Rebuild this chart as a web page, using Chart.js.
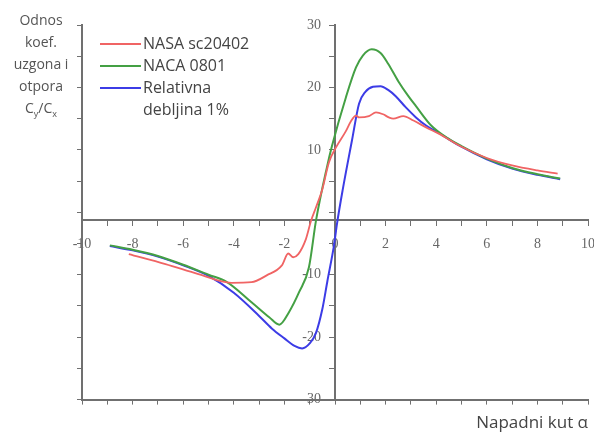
<!DOCTYPE html>
<html>
<head>
<meta charset="utf-8">
<script src="https://cdn.jsdelivr.net/npm/chart.js@4.4.1/dist/chart.umd.min.js"></script>
<style>
  html, body { margin: 0; padding: 0; background: #fff; }
  #wrap { position: relative; width: 594px; height: 433px; }
  #ytitle {
    position: absolute; left: 0; top: 9px; width: 82px;
    text-align: center; font: 14px "Open Sans", sans-serif; color: #555; line-height: 22px;
  }
  #ytitle sub { font-size: 9px; }
</style>
</head>
<body>
<div id="wrap">
  <canvas id="chart" width="594" height="433"></canvas>
  <div id="ytitle">Odnos<br>koef.<br>uzgona i<br>otpora<br>C<sub>y</sub>/C<sub>x</sub></div>
</div>
<script>
// series labels
const seriesLabels = ["NASA sc20402", "NACA 0801", "Relativna\ndebljina 1%"];

// NASA sc20402
const alphaNasa = [-8.15, -6.7, -5.4, -4.1, -3.3, -2.7, -2.1, -1.85, -1.65, -1.45, -1.15, -0.95, -0.75, -0.5, -0.24, 0.04, 0.43, 0.63, 0.83, 0.95, 1.34, 1.62, 1.9, 2.13, 2.3, 2.7, 3.1, 3.6, 4.1, 5.0, 6.0, 7.0, 8.0, 8.8];
const ratioNasa = [-6.7, -8.3, -9.9, -11.3, -11.2, -10.1, -8.5, -6.6, -7.2, -6.7, -4.3, -1.4, 0.8, 3.7, 8.0, 10.4, 13.0, 14.6, 15.5, 15.2, 15.4, 16.0, 15.7, 15.2, 15.0, 15.4, 14.7, 13.6, 12.6, 10.5, 8.7, 7.5, 6.7, 6.2];

// NACA 0801
const alphaNaca = [-8.9, -8.0, -7.0, -6.0, -5.0, -4.3, -3.3, -2.6, -2.2, -1.82, -1.42, -1.03, -0.75, -0.32, -0.12, 0.43, 0.83, 1.1, 1.45, 1.8, 2.1, 2.5, 2.9, 3.2, 3.8, 4.4, 5.0, 6.0, 7.0, 8.0, 8.9];
const ratioNaca = [-5.3, -6.0, -7.0, -8.4, -10.0, -11.1, -14.4, -16.8, -18.0, -16.0, -12.8, -8.8, -1.3, 7.2, 10.6, 18.4, 23.2, 25.1, 26.1, 25.5, 23.8, 21.0, 18.6, 17.0, 13.9, 12.0, 10.6, 8.6, 7.1, 6.1, 5.4];

// Relativna debljina 1%
const alphaRel = [-8.9, -8.0, -7.0, -6.0, -5.0, -4.0, -3.0, -2.5, -2.0, -1.6, -1.3, -1.0, -0.75, -0.5, -0.3, -0.04, 0.08, 0.3, 0.67, 0.95, 1.2, 1.5, 1.8, 2.1, 2.4, 2.8, 3.2, 3.6, 4.1, 4.9, 6.0, 7.0, 8.0, 8.9];
const ratioRel = [-5.4, -6.1, -7.1, -8.5, -10.2, -12.9, -16.6, -18.6, -20.2, -21.4, -21.8, -21.0, -19.3, -15.5, -11.0, -5.3, -1.8, 3.5, 11.5, 17.4, 19.3, 20.1, 20.2, 19.6, 18.6, 16.8, 15.2, 13.9, 12.7, 10.7, 8.5, 7.0, 6.0, 5.3];

const xAxisTitle = "Napadni kut α";

const toPoints = (xs, ys) => xs.map((x, i) => ({ x: x, y: ys[i] }));

const axisColor = "#707070";
const tickFont = { family: "Liberation Serif", size: 14 };

// centre axes: their labels must not push the plot area in
const noPadding = (s) => {
    s.paddingLeft = 0;
    s.paddingRight = 0;
    s.paddingTop = 0;
    s.paddingBottom = 0;
};

// legend drawn by hand: short line + (multi-line) label
const lineLegend = {
    id: "lineLegend",
    afterDraw(chart) {
        const ctx = chart.ctx;
        ctx.save();
        ctx.font = '16px "Open Sans"';
        ctx.textBaseline = "middle";
        let y = 44;
        chart.data.datasets.forEach((ds) => {
            ctx.strokeStyle = ds.borderColor;
            ctx.lineWidth = 2;
            ctx.beginPath();
            ctx.moveTo(100, y);
            ctx.lineTo(141, y);
            ctx.stroke();
            ctx.fillStyle = "#444";
            const lines = ds.label.split("\n");
            lines.forEach((line, i) => ctx.fillText(line, 143, y + i * 22));
            y += 22 * lines.length;
        });
        ctx.restore();
    },
};

const ctx = document.getElementById("chart").getContext("2d");
const chart = new Chart(ctx, {
    type: "scatter",
    data: {
        datasets: [
            {
                label: seriesLabels[0],
                data: toPoints(alphaNasa, ratioNasa),
                borderColor: "#f06464",
                borderWidth: 1.8,
            },
            {
                label: seriesLabels[1],
                data: toPoints(alphaNaca, ratioNaca),
                borderColor: "#44a044",
                borderWidth: 2,
            },
            {
                label: seriesLabels[2],
                data: toPoints(alphaRel, ratioRel),
                borderColor: "#3c3ce6",
                borderWidth: 2,
            },
        ],
    },
    options: {
        responsive: false,
        animation: false,
        showLine: true,
        elements: {
            point: { radius: 0, hoverRadius: 0 },
            line: { cubicInterpolationMode: "monotone" },
        },
        layout: { padding: { left: 77, top: 25, right: 6, bottom: 0 } },
        plugins: { legend: { display: false }, tooltip: { enabled: false } },
        scales: {
            x: {
                type: "linear",
                min: -10,
                max: 10,
                position: { y: -1.3 },
                afterFit: noPadding,
                ticks: {
                    stepSize: 1,
                    autoSkip: false,
                    maxRotation: 0,
                    padding: 11,
                    font: tickFont,
                    color: "#666",
                    callback: (v) => (v % 2 === 0 ? String(v) : ""),
                },
                grid: { drawOnChartArea: false, tickLength: 5, color: axisColor },
                border: { color: axisColor, width: 2 },
            },
            y: {
                type: "linear",
                min: -30,
                max: 30,
                position: { x: 0 },
                afterFit: noPadding,
                ticks: {
                    stepSize: 5,
                    font: tickFont,
                    color: "#666",
                    // labels sit left of the centre axis
                    callback: (v) => (v % 10 === 0 && v !== 0 ? String(v) + "\u2003" : ""),
                },
                grid: { drawOnChartArea: false, tickLength: 5, color: axisColor },
                border: { color: axisColor, width: 2 },
            },
            y2: {
                type: "linear",
                min: -30,
                max: 30,
                position: "left",
                ticks: { display: false, stepSize: 5 },
                grid: { drawOnChartArea: false, tickLength: 5, color: axisColor },
                border: { color: axisColor, width: 2 },
            },
            x2: {
                type: "linear",
                min: -10,
                max: 10,
                position: "bottom",
                ticks: { display: false, stepSize: 1 },
                grid: { drawOnChartArea: false, tickLength: 5, color: axisColor },
                border: { color: axisColor, width: 2 },
                title: {
                    display: true,
                    text: xAxisTitle,
                    align: "end",
                    color: "#444",
                    font: { family: "Open Sans", size: 17 },
                    padding: { top: 8, bottom: 0 },
                },
            },
        },
    },
    plugins: [lineLegend],
});
</script>
</body>
</html>
